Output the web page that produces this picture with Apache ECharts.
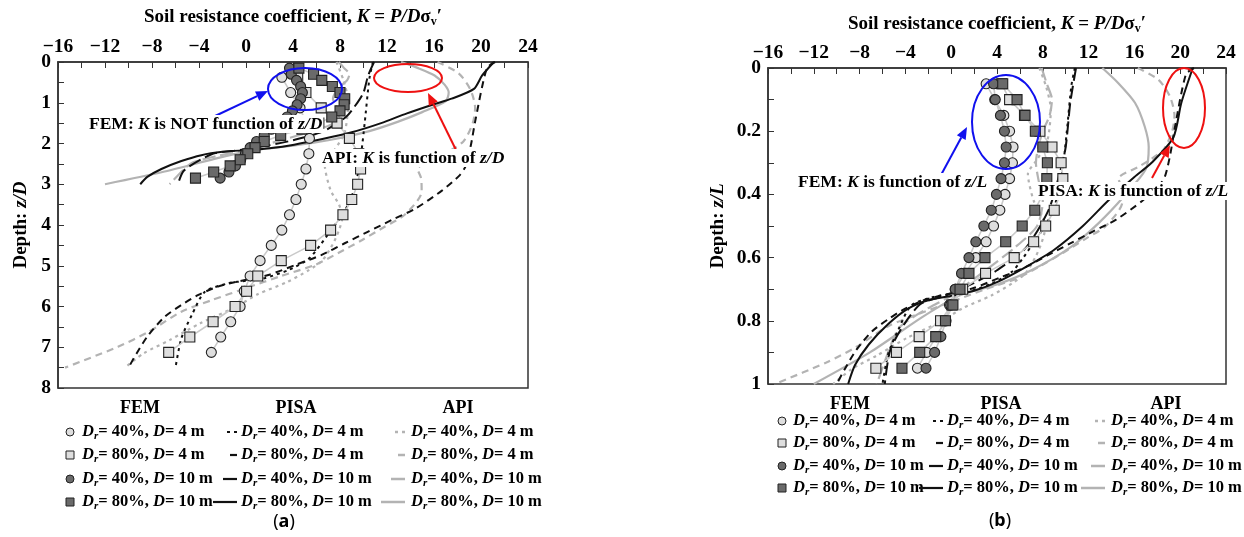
<!DOCTYPE html>
<html><head><meta charset="utf-8">
<script src="https://cdn.jsdelivr.net/npm/echarts/dist/echarts.min.js"></script>
<style>html,body{margin:0;padding:0;background:#fff}#c{width:1244px;height:537px}</style>
</head><body><div id="c"></div>
<script>
// ---------------- DATA ----------------
const pileLength = 30;               // m
const diameters = [4, 10];           // m
const xTickValues = [-16,-12,-8,-4,0,4,8,12,16,20,24];
const yTicksA = [0,1,2,3,4,5,6,7,8];
const yTicksB = [0,0.2,0.4,0.6,0.8,1];

// FEM depths
const zL   = [0.05,0.10,0.15,0.20,0.25,0.30,0.35,0.40,0.45,0.50,0.55,0.60,0.65,0.70,0.75,0.80,0.85,0.90,0.95];
const zD4  = [0.375,0.75,1.125,1.5,1.875,2.25,2.625,3.0,3.375,3.75,4.125,4.5,4.875,5.25,5.625,6.0,6.375,6.75,7.125];
const zD10 = [0.15,0.30,0.45,0.60,0.75,0.90,1.05,1.20,1.35,1.50,1.65,1.80,1.95,2.10,2.25,2.40,2.55,2.70,2.85];
// FEM K values
const femDr40D4  = [3.05,3.8,4.6,5.1,5.4,5.35,5.1,4.7,4.25,3.7,3.05,2.15,1.2,0.35,-0.15,-0.5,-1.3,-2.15,-2.95];
const femDr80D4  = [4.4,5.1,6.4,7.75,8.8,9.6,9.75,9.5,9.0,8.25,7.2,5.5,3.0,1.0,0.05,-0.93,-2.8,-4.78,-6.58];
const femDr40D10 = [3.7,3.85,4.3,4.65,4.8,4.65,4.35,3.95,3.5,2.85,2.15,1.55,0.9,0.35,-0.05,-0.45,-0.9,-1.45,-2.2];
const femDr80D10 = [4.5,5.75,6.45,7.35,8.0,8.4,8.35,8.0,7.3,6.2,4.76,2.95,1.55,0.77,0.15,-0.5,-1.35,-2.75,-4.3];

// PISA curves  [K, z/L]
const pisaDr40D4  = [[10.8,0],[10.5,0.055],[10.1,0.2],[9.8,0.3],[9.45,0.38],[8.9,0.45],[8.2,0.5],[7.2,0.552],[6.3,0.6],[5.3,0.645],[3.6,0.681],[1.4,0.709],[0,0.716],[-1.5,0.724],[-3.5,0.752],[-4.6,0.827],[-5.5,0.904],[-6.0,1.0]];
const pisaDr80D4  = [[21.2,0],[20.5,0.02],[19.5,0.195],[19.15,0.27],[18.7,0.34],[18.2,0.37],[16.7,0.42],[14.4,0.48],[12.4,0.517],[10.4,0.555],[8.4,0.593],[6.4,0.632],[4.2,0.664],[1.9,0.697],[-0.9,0.72],[-2.4,0.735],[-4.1,0.763],[-5.5,0.795],[-6.9,0.833],[-8.3,0.893],[-9.3,0.953],[-10.0,1.0]];
const pisaDr40D10 = [[10.9,0],[10.4,0.11],[10.0,0.25],[9.5,0.33],[8.5,0.45],[6.5,0.57],[4.0,0.64],[2.0,0.68],[-0.5,0.72],[-2.6,0.745],[-3.85,0.797],[-5.3,0.89],[-5.8,1.0]];
const pisaDr80D10 = [[21.1,0],[20.1,0.11],[19.4,0.22],[17.5,0.3],[16.0,0.345],[13.7,0.42],[11.5,0.5],[9.0,0.575],[6.5,0.63],[4.1,0.676],[2.0,0.705],[0.2,0.72],[-2.0,0.735],[-3.8,0.762],[-5.5,0.81],[-7.2,0.875],[-8.4,0.94],[-9.0,1.0]];
// API curves  [K, z/L]
const apiDr40D4  = [[7.7,0],[8.3,0.06],[8.7,0.13],[8.4,0.23],[7.5,0.29],[6.7,0.335],[7.2,0.42],[7.9,0.465],[8.2,0.508],[7.9,0.552],[7.4,0.595],[6.5,0.649],[5.35,0.681],[3.5,0.72],[1.0,0.76],[-0.8,0.8],[-3.9,0.855],[-6.5,0.91],[-8.7,0.953],[-10.3,1.0]];
const apiDr80D4  = [[16.3,0],[18.1,0.037],[19.1,0.09],[19.5,0.15],[19.3,0.2],[18.5,0.26],[16.5,0.31],[14.6,0.35],[14.9,0.38],[14.95,0.424],[13.5,0.5],[11.8,0.539],[9.85,0.583],[7.85,0.625],[5.87,0.664],[3.0,0.7],[0,0.74],[-2.9,0.779],[-5.5,0.817],[-8.3,0.883],[-10.9,0.932],[-15.4,1.0]];
const apiDr40D10 = [[7.9,0],[8.35,0.05],[8.8,0.1],[8.6,0.15],[8.0,0.2],[7.6,0.25],[7.4,0.3],[7.6,0.35],[8.0,0.42],[7.5,0.5],[5.5,0.57],[3.0,0.64],[0,0.72],[-2.5,0.77],[-4.5,0.82],[-5.2,0.87],[-6.5,1.0]];
const apiDr80D10 = [[13.2,0],[14.6,0.048],[16.05,0.11],[16.9,0.185],[17.25,0.25],[17.0,0.32],[15.0,0.41],[12.9,0.49],[10.5,0.565],[7.0,0.64],[4.0,0.685],[1.5,0.71],[0.4,0.725],[-2.6,0.79],[-7.1,0.9],[-12.0,1.0]];

const legendLabels = ['40%, ', '80%, ', '40%, ', '80%, '];
const legendD = ['4 m', '4 m', '10 m', '10 m'];

// ---------------- STYLE ----------------
const SERIF = 'Liberation Serif, Times New Roman, serif';
const BLACK = '#111';
const GRAY = '#b3b3b3';
const FEMLINE = '#cacaca';
const LIGHT = '#dedede', DARK = '#6a6a6a';
const DOT = [3,4], DASH = [7,5], LDASH = [13,5];

const chart = echarts.init(document.getElementById('c'), null, {renderer:'canvas'});

function minus(v){ return String(v).replace('-', '\u2212'); }

function xAxisCfg(gi, gap){
  return {
    gridIndex: gi, type:'value', position:'top', min:-16, max:24, interval:4,
    axisLine:{show:true, onZero:false, lineStyle:{color:'#333', width:1.5}},
    axisTick:{show:true, inside:true, length:6, lineStyle:{color:'#333', width:1}},
    minorTick:{show:true, splitNumber:2, length:6, lineStyle:{color:'#333', width:1}},
    splitLine:{show:false},
    axisLabel:{fontFamily:SERIF, fontWeight:'bold', fontSize:19.5, color:'#000', margin:5,
      formatter: v => minus(v)},
    name:'{n|Soil resistance coefficient, }{i|K}{n| = }{i|P/D}{n|σ}{s|v}{n|′}',
    nameLocation:'middle', nameGap:gap,
    nameTextStyle:{fontFamily:SERIF, fontWeight:'bold', fontSize:19, color:'#000',
      rich:{
        n:{fontFamily:SERIF, fontWeight:'bold', fontSize:19, color:'#000', lineHeight:22},
        i:{fontFamily:SERIF, fontWeight:'bold', fontStyle:'italic', fontSize:19, color:'#000', lineHeight:22},
        s:{fontFamily:SERIF, fontWeight:'bold', fontSize:12, color:'#000', lineHeight:15, verticalAlign:'bottom'}
      }}
  };
}
function yAxisCfg(gi, max, interval, label, gap){
  return {
    gridIndex: gi, type:'value', inverse:true, min:0, max:max, interval:interval,
    axisLine:{show:true, onZero:false, lineStyle:{color:'#333', width:1.5}},
    axisTick:{show:true, inside:true, length:6, lineStyle:{color:'#333', width:1}},
    minorTick:{show:true, splitNumber:2, length:6, lineStyle:{color:'#333', width:1}},
    splitLine:{show:false},
    axisLabel:{fontFamily:SERIF, fontWeight:'bold', fontSize:19.5, color:'#000', margin:7},
    name:'{n|Depth: }{i|' + label + '}', nameLocation:'middle', nameGap:gap, nameRotate:90,
    nameTextStyle:{fontFamily:SERIF, fontWeight:'bold', fontSize:19, color:'#000',
      rich:{
        n:{fontFamily:SERIF, fontWeight:'bold', fontSize:19, color:'#000'},
        i:{fontFamily:SERIF, fontWeight:'bold', fontStyle:'italic', fontSize:19, color:'#000'}
      }}
  };
}

function femSeries(gi, K, depth, symbol, fill){
  return {type:'line', xAxisIndex:gi, yAxisIndex:gi,
    data: K.map((k,i)=>[k, depth[i]]),
    symbol: symbol, symbolSize: 10, showSymbol:true,
    itemStyle:{color:fill, borderColor:'#222', borderWidth:1.1},
    lineStyle:{color:FEMLINE, width:1.6}, z:6, animation:false};
}
function curveSeries(gi, pts, depthScale, color, dash, width){
  return {type:'line', xAxisIndex:gi, yAxisIndex:gi,
    data: pts.map(p=>[p[0], p[1]*depthScale]),
    symbol:'none', smooth:0.25,
    lineStyle:{color:color, width:width, type:dash}, z: color===BLACK?4:3, animation:false};
}

const series = [];
// panel a (z/D) index 0 ; panel b (z/L) index 1
[[0, pileLength/diameters[0], pileLength/diameters[1], zD4, zD10],
 [1, 1, 1, zL, zL]].forEach(([gi, s4, s10, d4, d10])=>{
  series.push(curveSeries(gi, apiDr40D4,  s4,  GRAY, DOT, 2.2));
  series.push(curveSeries(gi, apiDr80D4,  s4,  GRAY, DASH, 2.2));
  series.push(curveSeries(gi, apiDr40D10, s10, GRAY, LDASH, 2.2));
  series.push(curveSeries(gi, apiDr80D10, s10, GRAY, 'solid', 2.2));
  series.push(curveSeries(gi, pisaDr40D4,  s4,  BLACK, DOT, 2));
  series.push(curveSeries(gi, pisaDr80D4,  s4,  BLACK, DASH, 2));
  series.push(curveSeries(gi, pisaDr40D10, s10, BLACK, LDASH, 2));
  series.push(curveSeries(gi, pisaDr80D10, s10, BLACK, 'solid', 2));
  series.push(femSeries(gi, femDr40D4,  d4,  'circle', LIGHT));
  series.push(femSeries(gi, femDr80D4,  d4,  'rect', LIGHT));
  series.push(femSeries(gi, femDr40D10, d10, 'circle', DARK));
  series.push(femSeries(gi, femDr80D10, d10, 'rect', DARK));
});

// ---------------- GRAPHICS (legend + annotations) ----------------
const G = [];
const legRich = {
  i:{fontFamily:SERIF, fontWeight:'bold', fontStyle:'italic', fontSize:16.5, color:'#000', lineHeight:20},
  r:{fontFamily:SERIF, fontWeight:'bold', fontStyle:'italic', fontSize:11, color:'#000', lineHeight:14, verticalAlign:'bottom'},
  n:{fontFamily:SERIF, fontWeight:'bold', fontSize:16.5, color:'#000', lineHeight:20}
};
function legText(x, y, k){
  return {type:'text', x:x, y:y, z:50, style:{
    text:'{i|D}{r|r}{n|= ' + legendLabels[k] + '}{i|D}{n|= ' + legendD[k] + '}',
    rich:legRich, verticalAlign:'middle', align:'left'}};
}
function header(x, y, t){
  return {type:'text', x:x, y:y, z:50, style:{text:t, font:'bold 18px ' + SERIF, fill:'#000', align:'center', verticalAlign:'middle'}};
}
function legLine(x1, x2, y, color, dash, w){
  return {type:'line', z:50, shape:{x1:x1, y1:y, x2:x2, y2:y}, style:{stroke:color, lineWidth:w, lineDash:dash}};
}
function legMarker(x, y, k){
  const fill = k < 2 ? LIGHT : DARK;
  if (k % 2 === 0) return {type:'circle', z:50, shape:{cx:x, cy:y, r:4}, style:{fill:fill, stroke:'#222', lineWidth:1}};
  return {type:'rect', z:50, shape:{x:x-4, y:y-4, width:8, height:8}, style:{fill:fill, stroke:'#222', lineWidth:1}};
}
function buildLegend(L){
  G.push(header(L.hFem, L.hy, 'FEM'), header(L.hPisa, L.hy, 'PISA'), header(L.hApi, L.hy, 'API'));
  const dashes = [DOT, null, null, null];
  const lens = [10, 7, 14, 24];
  L.rows.forEach((y, k)=>{
    G.push(legMarker(L.mx, y, k));
    G.push(legText(L.tFem, y, k));
    const pe = L.tPisa - 4;
    G.push(legLine(pe - lens[k], pe, y, BLACK, dashes[k], 2.2));
    G.push(legText(L.tPisa, y, k));
    const ae = L.tApi - 6;
    G.push(legLine(ae - lens[k], ae, y, GRAY, dashes[k], 2.5));
    G.push(legText(L.tApi, y, k));
  });
}
buildLegend({hy:408, hFem:140, hPisa:296, hApi:458, rows:[432,455,479,502], mx:70, tFem:82, tPisa:241, tApi:411});
buildLegend({hy:404, hFem:850, hPisa:1001, hApi:1166, rows:[421,443,466,488], mx:782, tFem:793, tPisa:947, tApi:1111});

G.push({type:'text', x:284, y:522, z:50, style:{text:'({b|a})', rich:{b:{fontFamily:'Noto Sans', fontWeight:'bold', fontSize:18, fill:'#000'}}, font:'18px Noto Sans', fill:'#000', align:'center', verticalAlign:'middle'}});
G.push({type:'text', x:1000, y:521, z:50, style:{text:'({b|b})', rich:{b:{fontFamily:'Noto Sans', fontWeight:'bold', fontSize:18, fill:'#000'}}, font:'18px Noto Sans', fill:'#000', align:'center', verticalAlign:'middle'}});

function ellipse(cx, cy, rx, ry, color){
  return {type:'ellipse', z:60, shape:{cx:cx, cy:cy, rx:rx, ry:ry}, style:{fill:'none', stroke:color, lineWidth:2}};
}
function arrow(x1, y1, x2, y2, color){
  const a = Math.atan2(y2-y1, x2-x1), h = 12, w = 5;
  const bx = x2 - h*Math.cos(a), by = y2 - h*Math.sin(a);
  return [{type:'line', z:60, shape:{x1:x1, y1:y1, x2:bx, y2:by}, style:{stroke:color, lineWidth:2}},
          {type:'polygon', z:60, shape:{points:[[x2,y2],[bx + w*Math.sin(a), by - w*Math.cos(a)],[bx - w*Math.sin(a), by + w*Math.cos(a)]]}, style:{fill:color}}];
}
function note(x, y, parts, color){
  const rich = {
    n:{fontFamily:SERIF, fontWeight:'bold', fontSize:17.5, color:color},
    i:{fontFamily:SERIF, fontWeight:'bold', fontStyle:'italic', fontSize:17.5, color:color}
  };
  return {type:'text', x:x, y:y, z:70, style:{text:parts, rich:rich, align:'left', verticalAlign:'middle', backgroundColor:'#fff', padding:[0,1]}};
}
const BLUE = '#1010ee', RED = '#ee1111';
G.push(ellipse(305, 89, 37, 21, BLUE));
G.push(...arrow(213, 117, 268, 91, BLUE));
G.push(note(88, 124, '{n|FEM: }{i|K}{n| is NOT function of }{i|z/D}', BLUE));
G.push(ellipse(408, 78, 34, 14, RED));
G.push(...arrow(457, 152, 428, 93, RED));
G.push(note(321, 158, '{n|API: }{i|K}{n| is function of }{i|z/D}', RED));

G.push(ellipse(1006, 122, 34, 47, BLUE));
G.push(...arrow(941, 175, 967, 127, BLUE));
G.push(note(797, 182, '{n|FEM: }{i|K}{n| is function of }{i|z/L}', BLUE));
G.push(ellipse(1184, 108, 21, 40, RED));
G.push(...arrow(1152, 178, 1170, 145, RED));
G.push(note(1037, 191, '{n|PISA: }{i|K}{n| is function of }{i|z/L}', RED));

chart.setOption({
  animation:false,
  backgroundColor:'#fff',
  grid:[
    {left:58, top:62, width:470, height:326, show:true, borderColor:'#333', borderWidth:1.5, backgroundColor:'transparent', outerBoundsMode:'none'},
    {left:768, top:68, width:458, height:316, show:true, borderColor:'#333', borderWidth:1.5, backgroundColor:'transparent', outerBoundsMode:'none'}
  ],
  xAxis:[xAxisCfg(0, 34), xAxisCfg(1, 33)],
  yAxis:[yAxisCfg(0, yTicksA[yTicksA.length-1], yTicksA[1]-yTicksA[0], 'z/D', 27),
         yAxisCfg(1, yTicksB[yTicksB.length-1], yTicksB[1]-yTicksB[0], 'z/L', 40)],
  series: series,
  graphic:{elements:G}
});
</script></body></html>
